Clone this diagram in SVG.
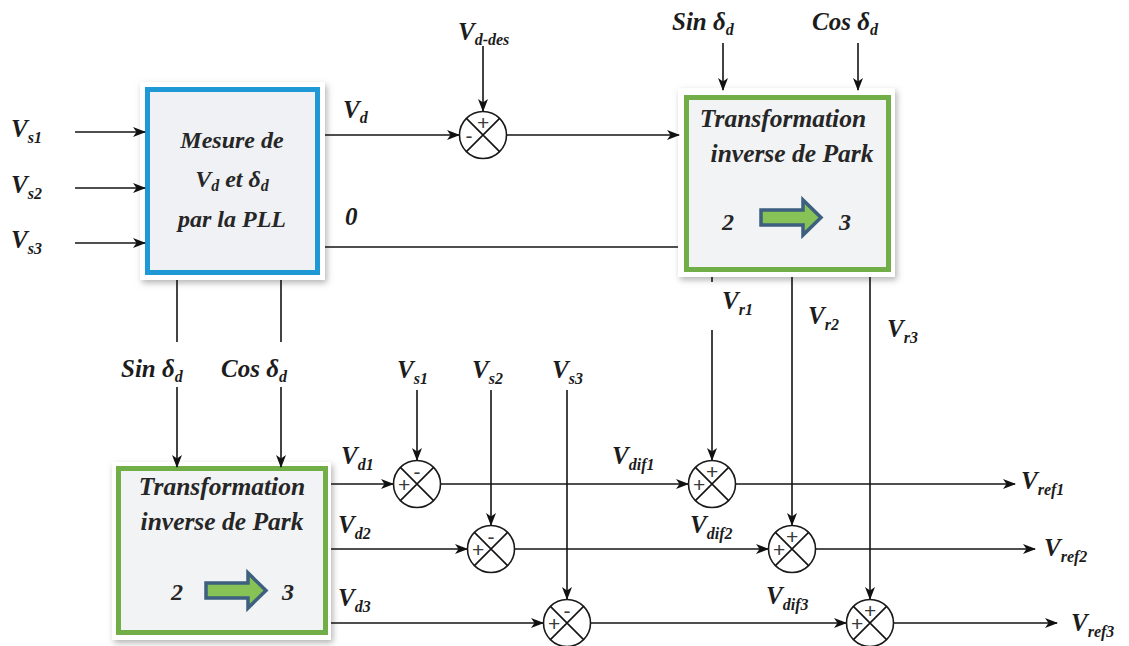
<svg xmlns="http://www.w3.org/2000/svg" xmlns:xlink="http://www.w3.org/1999/xlink" width="1129" height="646" viewBox="0 0 1129 646">
<style>
.ln{stroke:#141414;stroke-width:1.6;fill:none}
.t{font-family:"Liberation Serif",serif;font-style:italic;font-weight:bold;font-size:25px;fill:#1c1c1c}
.s{font-size:16px}
.bt{font-family:"Liberation Serif",serif;font-style:italic;font-weight:bold;font-size:24px;fill:#262626;text-anchor:middle}
.bt2{font-size:25.5px}
.sg{font-family:"Liberation Sans",sans-serif;font-size:21px;fill:#3a3a3a;text-anchor:middle;dominant-baseline:central}
.sumc{fill:#fff;stroke:#1a1a1a;stroke-width:1.6}
.frame{fill:#fff;filter:url(#shadow)}
</style>
<defs>
<filter id="shadow" x="-10%" y="-10%" width="125%" height="125%">
<feDropShadow dx="2" dy="3" stdDeviation="3" flood-color="#777" flood-opacity="0.55"/>
</filter>
<marker id="ah" markerUnits="userSpaceOnUse" markerWidth="13" markerHeight="10" refX="12" refY="5" orient="auto">
<path d="M0,0 L13,5 L0,10 L3.5,5 z" fill="#111"/>
</marker>
<g id="sumj">
<circle class="sumc" r="23.5"/>
<path class="ln" d="M-16.6,-16.6 L16.6,16.6 M16.6,-16.6 L-16.6,16.6"/>
</g>
<path id="barrow" d="M0,10 H42 V0 L60,17.5 L42,35 V25 H0 z" fill="#86c255" stroke="#3d5f80" stroke-width="3.5" stroke-linejoin="miter"/>
</defs>
<rect width="1129" height="646" fill="#fff"/>

<g id="pll">
<rect class="frame" x="140" y="82" width="185" height="198"/>
<rect x="147.5" y="89.5" width="170" height="183" fill="#eff1f4" stroke="#1f98d6" stroke-width="5"/>
<text class="bt" x="232" y="148">Mesure de</text>
<text class="bt" x="232" y="187">V<tspan class="s" dy="4">d</tspan><tspan dy="-4"> et δ</tspan><tspan class="s" dy="4">d</tspan></text>
<text class="bt" x="232" y="227">par la PLL</text>
</g>

<g id="park-top">
<rect class="frame" x="678" y="88" width="217" height="189"/>
<rect x="686.5" y="97.5" width="202" height="172" fill="#f2f3f5" stroke="#72ae48" stroke-width="5"/>
<text class="bt bt2" x="783" y="127">Transformation</text>
<text class="bt bt2" x="792" y="162">inverse de Park</text>
<text class="bt" x="728" y="230">2</text>
<use xlink:href="#barrow" x="761" y="200"/>
<text class="bt" x="845" y="230">3</text>
</g>

<g id="park-bottom">
<rect class="frame" x="112" y="462" width="219" height="178"/>
<rect x="118.5" y="468.5" width="207" height="164" fill="#f2f3f5" stroke="#72ae48" stroke-width="5"/>
<text class="bt bt2" x="222" y="495">Transformation</text>
<text class="bt bt2" x="222" y="530">inverse de Park</text>
<text class="bt" x="177" y="600">2</text>
<use xlink:href="#barrow" x="206" y="573"/>
<text class="bt" x="288" y="600">3</text>
</g>

<g id="connectors">
<path class="ln" marker-end="url(#ah)" d="M75,132 H145"/>
<path class="ln" marker-end="url(#ah)" d="M75,188 H145"/>
<path class="ln" marker-end="url(#ah)" d="M75,243 H145"/>
<path class="ln" marker-end="url(#ah)" d="M325,135 H459"/>
<path class="ln" marker-end="url(#ah)" d="M483,46 V111"/>
<path class="ln" marker-end="url(#ah)" d="M507,135 H679"/>
<path class="ln" d="M325,247 H678"/>
<path class="ln" marker-end="url(#ah)" d="M723,43 V90"/>
<path class="ln" marker-end="url(#ah)" d="M858,43 V90"/>
<path class="ln" d="M177,280 V342"/>
<path class="ln" marker-end="url(#ah)" d="M177,387 V467"/>
<path class="ln" d="M281,280 V342"/>
<path class="ln" marker-end="url(#ah)" d="M281,387 V467"/>
<path class="ln" d="M712,277 V282"/>
<path class="ln" marker-end="url(#ah)" d="M712,330 V460"/>
<path class="ln" marker-end="url(#ah)" d="M792,277 V525"/>
<path class="ln" marker-end="url(#ah)" d="M870,277 V599"/>
<path class="ln" marker-end="url(#ah)" d="M417,390 V460"/>
<path class="ln" marker-end="url(#ah)" d="M491,390 V525"/>
<path class="ln" marker-end="url(#ah)" d="M567,390 V599"/>
<path class="ln" marker-end="url(#ah)" d="M331,484 H393"/>
<path class="ln" marker-end="url(#ah)" d="M441,484 H688"/>
<path class="ln" marker-end="url(#ah)" d="M736,484 H1015"/>
<path class="ln" marker-end="url(#ah)" d="M331,549 H467"/>
<path class="ln" marker-end="url(#ah)" d="M515,549 H768"/>
<path class="ln" marker-end="url(#ah)" d="M816,549 H1035"/>
<path class="ln" marker-end="url(#ah)" d="M331,623 H543"/>
<path class="ln" marker-end="url(#ah)" d="M591,623 H846"/>
<path class="ln" marker-end="url(#ah)" d="M894,623 H1057"/>
</g>

<g id="sum-vd" transform="translate(483,135)"><use xlink:href="#sumj"/><text class="sg" x="0" y="-13">+</text><text class="sg" x="-14" y="0">-</text></g>
<g id="sum-1" transform="translate(417,484)"><use xlink:href="#sumj"/><text class="sg" x="0" y="-13">-</text><text class="sg" x="-13" y="0">+</text></g>
<g id="sum-2" transform="translate(491,549)"><use xlink:href="#sumj"/><text class="sg" x="0" y="-13">-</text><text class="sg" x="-13" y="0">+</text></g>
<g id="sum-3" transform="translate(567,623)"><use xlink:href="#sumj"/><text class="sg" x="0" y="-13">-</text><text class="sg" x="-13" y="0">+</text></g>
<g id="sum-r1" transform="translate(712,484)"><use xlink:href="#sumj"/><text class="sg" x="0" y="-13">+</text><text class="sg" x="-13" y="0">+</text></g>
<g id="sum-r2" transform="translate(792,549)"><use xlink:href="#sumj"/><text class="sg" x="0" y="-13">+</text><text class="sg" x="-13" y="0">+</text></g>
<g id="sum-r3" transform="translate(870,623)"><use xlink:href="#sumj"/><text class="sg" x="0" y="-13">+</text><text class="sg" x="-13" y="0">+</text></g>

<g id="labels">
<text class="t" x="11" y="137">V<tspan class="s" dy="6">s1</tspan></text>
<text class="t" x="11" y="193">V<tspan class="s" dy="6">s2</tspan></text>
<text class="t" x="11" y="248">V<tspan class="s" dy="6">s3</tspan></text>
<text class="t" x="343" y="118">V<tspan class="s" dy="5">d</tspan></text>
<text class="t" x="345" y="225">0</text>
<text class="t" x="458" y="40">V<tspan class="s" dy="5">d-des</tspan></text>
<text class="t" x="672" y="30">Sin δ<tspan class="s" dy="5">d</tspan></text>
<text class="t" x="812" y="30">Cos δ<tspan class="s" dy="5">d</tspan></text>
<text class="t" x="722" y="309">V<tspan class="s" dy="6">r1</tspan></text>
<text class="t" x="808" y="324">V<tspan class="s" dy="6">r2</tspan></text>
<text class="t" x="887" y="337">V<tspan class="s" dy="6">r3</tspan></text>
<text class="t" x="121" y="377">Sin δ<tspan class="s" dy="5">d</tspan></text>
<text class="t" x="221" y="377">Cos δ<tspan class="s" dy="5">d</tspan></text>
<text class="t" x="397" y="378">V<tspan class="s" dy="6">s1</tspan></text>
<text class="t" x="472" y="378">V<tspan class="s" dy="6">s2</tspan></text>
<text class="t" x="552" y="378">V<tspan class="s" dy="6">s3</tspan></text>
<text class="t" x="341" y="464">V<tspan class="s" dy="6">d1</tspan></text>
<text class="t" x="338" y="533">V<tspan class="s" dy="6">d2</tspan></text>
<text class="t" x="338" y="606">V<tspan class="s" dy="6">d3</tspan></text>
<text class="t" x="612" y="464">V<tspan class="s" dy="6">dif1</tspan></text>
<text class="t" x="690" y="533">V<tspan class="s" dy="6">dif2</tspan></text>
<text class="t" x="766" y="604">V<tspan class="s" dy="6">dif3</tspan></text>
<text class="t" x="1021" y="489">V<tspan class="s" dy="6">ref1</tspan></text>
<text class="t" x="1044" y="556">V<tspan class="s" dy="6">ref2</tspan></text>
<text class="t" x="1071" y="631">V<tspan class="s" dy="6">ref3</tspan></text>
</g>
</svg>
